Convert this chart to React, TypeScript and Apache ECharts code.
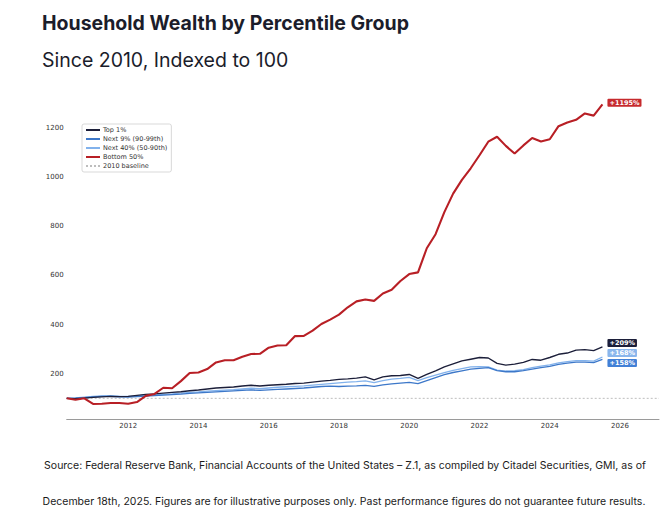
import React, { useEffect, useRef } from "react";
import * as echarts from "echarts";

// Quarter start positions, 2010Q2 .. 2025Q3
const quarters: string[] = [];
for (let y = 2010; y <= 2025; y++) {
  for (let q = 1; q <= 4; q++) {
    if (y === 2010 && q === 1) continue;
    if (y === 2025 && q === 4) continue;
    quarters.push(`${y}Q${q}`);
  }
}
const quarterX = (s: string) => Number(s.slice(0, 4)) + (Number(s.slice(5)) - 1) / 4;

const top1 = [
  100, 99, 101, 104, 106, 108, 107, 108, 112, 116, 118, 121, 124, 127, 131, 134,
  138, 142, 144, 146, 150, 153, 150, 153, 155, 157, 160, 162, 166, 170, 173, 177,
  179, 182, 187, 175, 187, 192, 193, 197, 181, 197, 212, 228, 240, 252, 259, 266,
  264, 242, 235, 239, 246, 258, 255, 266, 279, 284, 296, 298, 294, 309,
];
const next9 = [
  100, 101, 103, 106, 108, 108, 106, 105, 107, 109, 111, 113, 115, 117, 120, 122,
  124, 126, 128, 130, 132, 134, 132, 134, 136, 138, 140, 142, 145, 148, 150, 148,
  150, 151, 153, 149, 155, 159, 162, 165, 160, 172, 184, 196, 205, 212, 219, 222,
  225, 213, 208, 208, 213, 219, 225, 230, 238, 243, 247, 247, 245, 258,
];
const next40 = [
  100, 102, 105, 108, 110, 111, 109, 108, 110, 113, 114, 116, 118, 121, 124, 126,
  129, 131, 133, 135, 138, 141, 139, 142, 145, 147, 149, 151, 154, 157, 160, 163,
  166, 168, 171, 164, 172, 178, 181, 185, 172, 184, 194, 204, 214, 221, 228, 229,
  228, 215, 211, 213, 217, 225, 231, 236, 244, 249, 253, 253, 251, 268,
];
const bottom50 = [
  100, 94, 100, 77, 78, 81, 81, 78, 85, 110, 118, 143, 141, 170, 203, 205,
  219, 246, 255, 255, 269, 280, 281, 306, 315, 316, 353, 354, 375, 402, 420, 440,
  470, 494, 502, 496, 526, 541, 577, 605, 612, 710, 767, 857, 932, 988, 1035, 1088,
  1143, 1163, 1126, 1095, 1128, 1158, 1144, 1153, 1206, 1221, 1232, 1258, 1249, 1295,
];

const seriesNames = ["Top 1%", "Next 9% (90-99th)", "Next 40% (50-90th)", "Bottom 50%", "2010 baseline"];
const endLabels = ["+209%", "+158%", "+168%", "+1195%"];
const yTicks = [200, 400, 600, 800, 1000, 1200];
const xTicks = [2012, 2014, 2016, 2018, 2020, 2022, 2024, 2026];
const baselineValue = 100;

const title = "Household Wealth by Percentile Group";
const subtitle = "Since 2010, Indexed to 100";
const footer1 =
  "Source: Federal Reserve Bank, Financial Accounts of the United States – Z.1, as compiled by Citadel Securities, GMI, as of";
const footer2 =
  "December 18th, 2025. Figures are for illustrative purposes only. Past performance figures do not guarantee future results.";

const X_MIN = 2010.25;
const X_MAX = 2027.11;

function pairs(vals: number[]) {
  return vals.map((v, i) => [quarterX(quarters[i]), v]);
}

export default function App() {
  const ref = useRef<HTMLDivElement>(null);
  useEffect(() => {
    if (!ref.current) return;
    const chart = echarts.init(ref.current, undefined, { renderer: "svg" });
    const tickFont = "'DejaVu Sans', sans-serif";
    const mkEnd = (text: string, bg: string, dy: number) => ({
      show: true,
      formatter: text,
      color: "#fff",
      backgroundColor: bg,
      fontFamily: tickFont,
      fontSize: 6.5,
      fontWeight: "bold",
      padding: [1, 2, 0, 2],
      borderRadius: 1,
      distance: 5,
      offset: [0, dy],
    });
    const colors = {
      top1: "#1c1f3a",
      next9: "#3d78c9",
      next40: "#82b2ec",
      bottom: "#b81f25",
      base: "#bdbdbd",
    };
    chart.setOption({
      animation: false,
      grid: { left: 66.7, right: 12, top: 89.3, bottom: 102, containLabel: false },
      xAxis: {
        type: "value",
        min: X_MIN,
        max: X_MAX,
        axisLine: { show: true, onZero: false, lineStyle: { color: "#9a9a9a", width: 1 } },
        axisTick: { show: false },
        splitLine: { show: false },
        axisLabel: {
          customValues: xTicks,
          formatter: (v: number) => String(v),
          fontFamily: tickFont,
          fontSize: 7,
          color: "#333",
          margin: 3,
        },
      },
      yAxis: {
        type: "value",
        min: 16,
        max: 1356,
        axisLine: { show: false },
        axisTick: { show: false },
        splitLine: { show: false },
        axisLabel: {
          customValues: yTicks,
          formatter: (v: number) => String(v),
          fontFamily: tickFont,
          fontSize: 7,
          color: "#333",
          margin: 3,
        },
      },
      legend: {
        show: true,
        orient: "vertical",
        left: 82,
        top: 124,
        data: seriesNames,
        itemWidth: 14,
        itemHeight: 9,
        itemGap: 0,
        itemStyle: { opacity: 0 },
        padding: [1.5, 4, 1.5, 3],
        borderColor: "#cfcfcf",
        borderWidth: 0.8,
        borderRadius: 2,
        backgroundColor: "#fff",
        textStyle: { fontFamily: tickFont, fontSize: 6.5, color: "#333", lineHeight: 9, padding: [0, 0, 0, -2] },
      },
      graphic: [
        {
          type: "text",
          left: 42,
          top: 12.5,
          style: { text: title, fontFamily: "Inter", fontWeight: 700, fontSize: 19.5, fill: "#1b1d2b" },
        },
        {
          type: "text",
          left: 42,
          top: 49.5,
          style: { text: subtitle, fontFamily: "Inter", fontWeight: 400, fontSize: 19.5, fill: "#1b1d2b" },
        },
        {
          type: "text",
          x: 345,
          y: 465.5,
          style: {
            text: footer1,
            fontFamily: "Inter",
            fontSize: 10.5,
            fill: "#1a1a1a",
            textAlign: "center",
            textVerticalAlign: "middle",
          },
        },
        {
          type: "text",
          x: 344,
          y: 501.5,
          style: {
            text: footer2,
            fontFamily: "Inter",
            fontSize: 10.5,
            fill: "#1a1a1a",
            textAlign: "center",
            textVerticalAlign: "middle",
          },
        },
      ],
      series: [
        {
          name: seriesNames[4],
          type: "line",
          symbol: "none",
          data: [
            [X_MIN, baselineValue],
            [X_MAX, baselineValue],
          ],
          lineStyle: { color: colors.base, width: 1, type: [2, 2] },
          itemStyle: { color: colors.base },
          z: 1,
        },
        {
          name: seriesNames[3],
          type: "line",
          symbol: "none",
          data: pairs(bottom50),
          lineStyle: { color: colors.bottom, width: 2.1 },
          itemStyle: { color: colors.bottom },
          endLabel: mkEnd(endLabels[3], "#c62a2d", -1.5),
          z: 5,
        },
        {
          name: seriesNames[2],
          type: "line",
          symbol: "none",
          data: pairs(next40),
          lineStyle: { color: colors.next40, width: 1.3 },
          itemStyle: { color: colors.next40 },
          endLabel: mkEnd(endLabels[2], "#8ab6ec", -4),
          z: 3,
        },
        {
          name: seriesNames[1],
          type: "line",
          symbol: "none",
          data: pairs(next9),
          lineStyle: { color: colors.next9, width: 1.3 },
          itemStyle: { color: colors.next9 },
          endLabel: mkEnd(endLabels[1], "#4280d6", 3.5),
          z: 3,
        },
        {
          name: seriesNames[0],
          type: "line",
          symbol: "none",
          data: pairs(top1),
          lineStyle: { color: colors.top1, width: 1.4 },
          itemStyle: { color: colors.top1 },
          endLabel: mkEnd(endLabels[0], colors.top1, -4),
          z: 4,
        },
      ],
    });
    return () => chart.dispose();
  }, []);
  return (
    <div
      ref={ref}
      style={{ position: "absolute", left: 0, top: 0, width: 671, height: 521, background: "#fff" }}
    />
  );
}
